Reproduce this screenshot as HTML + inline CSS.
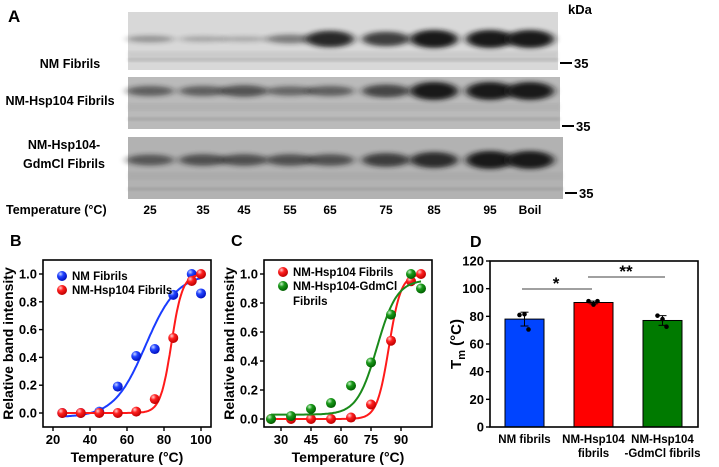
<!DOCTYPE html>
<html><head><meta charset="utf-8"><style>
body{margin:0;background:#fff;}
svg{display:block;font-family:"Liberation Sans",Arial,sans-serif;}
</style></head><body>
<svg id="fig" width="719" height="467" viewBox="0 0 719 467">
<defs>
<filter id="blur" x="-50%" y="-200%" width="200%" height="500%"><feGaussianBlur stdDeviation="4 2.5"/></filter>
<filter id="blur2"><feGaussianBlur stdDeviation="1.2"/></filter>
<radialGradient id="gb" cx="0.35" cy="0.3" r="0.7"><stop offset="0" stop-color="#c8d4ff"/><stop offset="0.4" stop-color="#2244ff"/><stop offset="1" stop-color="#0010c0"/></radialGradient>
<radialGradient id="gr" cx="0.35" cy="0.3" r="0.7"><stop offset="0" stop-color="#ffd0d0"/><stop offset="0.4" stop-color="#ff2020"/><stop offset="1" stop-color="#c00000"/></radialGradient>
<radialGradient id="gg" cx="0.35" cy="0.3" r="0.7"><stop offset="0" stop-color="#c8f0c8"/><stop offset="0.4" stop-color="#1a9a1a"/><stop offset="1" stop-color="#006000"/></radialGradient>
</defs>
<g id="panelA"></g>
<g id="panelB"></g>
<g id="panelC"></g>
<g id="panelD"></g>
</svg>
<script>
// ---- data ----
const laneLabels=["25","35","45","55","65","75","85","95","Boil"];
const gelNames=["NM Fibrils","NM-Hsp104 Fibrils","NM-Hsp104-GdmCl Fibrils"];
const gel1Intensity=[0.2,0.1,0.08,0.35,0.9,0.75,1,1,1];
const gel2Intensity=[0.45,0.45,0.55,0.4,0.45,0.65,1,1,1];
const gel3Intensity=[0.5,0.55,0.55,0.55,0.55,0.7,0.85,1,1];
const tempsB=[25,35,45,55,65,75,85,95,100];
const nmValues=[0,0,0.01,0.19,0.41,0.46,0.85,1.0,0.86];
const hspValues=[0,0,0,0,0.01,0.1,0.54,0.95,1.0];
const gdmValues=[0,0.02,0.07,0.11,0.23,0.39,0.72,1.0,0.9];
const nmFit=[-0.03,1.0,70,8.5];
const hspFit=[0,1.0,84,3];
const gdmFit=[0.03,0.96,78,5];
const bTicksX=[20,40,60,80,100];
const cTicksX=[30,45,60,75,90];
const yTicks=[0,0.2,0.4,0.6,0.8,1.0];
const dCats=["NM fibrils","NM-Hsp104|fibrils","NM-Hsp104|-GdmCl fibrils"];
const dValues=[78,90,77];
const dErr=[5,1,3.5];
const dPoints=[[81,81.5,70.5],[91,88.5,91],[80.5,78,72.5]];
const dTicks=[0,20,40,60,80,100,120];

const NS="http://www.w3.org/2000/svg";
function el(parent,tag,attrs,text){const e=document.createElementNS(NS,tag);for(const k in attrs)e.setAttribute(k,attrs[k]);if(text!==undefined)e.textContent=text;parent.appendChild(e);return e;}

// ---- Panel A ----
const A=document.getElementById('panelA');
let t=el(A,'text',{x:8,y:22,'font-size':17,'font-weight':'bold'},'A');


t=el(A,'text',{x:568,y:14,'font-size':13,'font-weight':'bold'},'kDa');


const laneX=[150,203,244,290,330,386,434,490,530];
const gels=[{y:12,h:58,band:39,bg:'#d8d8d8',vals:gel1Intensity,mk:63,rw:430},{y:77,h:52,band:91,bg:'#bababa',vals:gel2Intensity,mk:126,rw:432},{y:137,h:62,band:160,bg:'#b2b2b2',vals:gel3Intensity,mk:193,rw:435}];
gels.forEach((g,gi)=>{
  const gg=el(A,'g',{});
  
  
  el(gg,'rect',{x:128,y:g.y,width:g.rw,height:g.h,fill:g.bg});
  el(gg,'rect',{x:128,y:g.y+g.h-12,width:g.rw,height:4,fill:'#888',opacity:0.3,filter:'url(#blur2)'});
  el(gg,'rect',{x:128,y:g.band+12,width:g.rw,height:8,fill:'#888',opacity:0.15,filter:'url(#blur2)'});
  g.vals.forEach((v,i)=>{
    const b=el(gg,'ellipse',{cx:laneX[i],cy:g.band,rx:24,ry:2+v*7,fill:'#141414',opacity:0.2+v*0.78,filter:'url(#blur)'});
    
    
  });
  el(gg,'line',{x1:g.rw+130,x2:g.rw+142,y1:g.mk,y2:g.mk,stroke:'#000','stroke-width':2});
  const m=el(gg,'text',{x:g.rw+144,y:g.mk+5,'font-size':13,'font-weight':'bold'},'35');
  
  
});
const gl=[[[70,68,'NM Fibrils']],[[60,105,'NM-Hsp104 Fibrils']],[[64,149,'NM-Hsp104-'],[64,168,'GdmCl Fibrils']]];
gl.forEach((lines,gi)=>lines.forEach(l=>{const e=el(A,'text',{x:l[0],y:l[1],'font-size':12.5,'font-weight':'bold','text-anchor':'middle'},l[2]);

}));
t=el(A,'text',{x:6,y:214,'font-size':12.5,'font-weight':'bold'},'Temperature (°C)');


laneLabels.forEach((l,i)=>{const e=el(A,'text',{x:laneX[i],y:214,'font-size':12,'font-weight':'bold','text-anchor':'middle'},l);

});

// ---- line charts ----
function sig(p,x){return p[0]+(p[1]-p[0])/(1+Math.exp(-(x-p[2])/p[3]));}
function lineChart(G,letter,box,xs,ys,xTicks,series,legend){
  const lab=el(G,'text',{x:box.x0-33,y:box.y0-14,'font-size':16,'font-weight':'bold'},letter);
  
  
  const fr=el(G,'rect',{x:box.x0,y:box.y0,width:box.x1-box.x0,height:box.y1-box.y0,fill:'none',stroke:'#000','stroke-width':1.6});
  
  
  xTicks.forEach(v=>{el(G,'line',{x1:xs(v),x2:xs(v),y1:box.y1,y2:box.y1+4,stroke:'#000','stroke-width':1.4});
    const e=el(G,'text',{x:xs(v),y:box.y1+17,'font-size':13,'font-weight':'bold','text-anchor':'middle'},v);
    
    });
  yTicks.forEach(v=>{el(G,'line',{x1:box.x0-4,x2:box.x0,y1:ys(v),y2:ys(v),stroke:'#000','stroke-width':1.4});
    const e=el(G,'text',{x:box.x0-6,y:ys(v)+4.5,'font-size':13,'font-weight':'bold','text-anchor':'end'},v.toFixed(1));
    
    });
  let e=el(G,'text',{x:(box.x0+box.x1)/2,y:box.y1+35,'font-size':14,'font-weight':'bold','text-anchor':'middle'},'Temperature (°C)');
  
  
  const cy=(box.y0+box.y1)/2;
  e=el(G,'text',{x:box.x0-30,y:cy,'font-size':14,'font-weight':'bold','text-anchor':'middle',transform:`rotate(-90 ${box.x0-30} ${cy})`},'Relative band intensity');
  
  
  series.forEach(s=>{
    let d='';for(let x=25;x<=100;x+=0.5){d+=(d?'L':'M')+xs(x).toFixed(1)+','+ys(sig(s.fit,x)).toFixed(1);}
    const p=el(G,'path',{d:d,fill:'none',stroke:s.color,'stroke-width':2});
    
    
    s.vals.forEach((v,i)=>{const c=el(G,'circle',{cx:xs(tempsB[i]),cy:ys(v),r:5,fill:s.grad});
      
      });
  });
  legend.forEach((l,i)=>{
    const c=el(G,'circle',{cx:box.x0+l.dx,cy:box.y0+l.dy,r:5,fill:l.grad});
    
    
    l.text.forEach((tx,j)=>{const e=el(G,'text',{x:box.x0+l.dx+10,y:box.y0+l.dy+4+j*15,'font-size':11.5,'font-weight':'bold'},tx);
      
      });
  });
}
const boxB={x0:43,x1:211,y0:260,y1:427};
lineChart(document.getElementById('panelB'),'B',boxB,v=>53+(v-20)*1.85,v=>413-v*139,bTicksX,
 [{fit:nmFit,vals:nmValues,color:'#1a3cff',grad:'url(#gb)',name:'nm'},{fit:hspFit,vals:hspValues,color:'#ff1a1a',grad:'url(#gr)',name:'hsp104'}],
 [{dx:19,dy:16,grad:'url(#gb)',text:['NM Fibrils']},{dx:19,dy:30,grad:'url(#gr)',text:['NM-Hsp104 Fibrils']}]);
const boxC={x0:264,x1:432,y0:260,y1:427};
lineChart(document.getElementById('panelC'),'C',boxC,v=>271+(v-25)*2,v=>419-v*145,cTicksX,
 [{fit:hspFit,vals:hspValues,color:'#ff1a1a',grad:'url(#gr)',name:'hsp104'},{fit:gdmFit,vals:gdmValues,color:'#1a8a1a',grad:'url(#gg)',name:'gdmcl'}],
 [{dx:19,dy:12,grad:'url(#gr)',text:['NM-Hsp104 Fibrils']},{dx:19,dy:26,grad:'url(#gg)',text:['NM-Hsp104-GdmCl','Fibrils']}]);

// ---- Panel D ----
const D=document.getElementById('panelD');
const bx={x0:490,x1:698,y0:261,y1:427};
const ysD=v=>427-v*(166/120);
const barX=i=>505+i*69;
t=el(D,'text',{x:470,y:247,'font-size':16,'font-weight':'bold'},'D');


const colors=['#0044ff','#ff0000','#007a00'];
dValues.forEach((v,i)=>{
  const r=el(D,'rect',{x:barX(i),y:ysD(v),width:39,height:427-ysD(v),fill:colors[i],stroke:'#000','stroke-width':1});
  
  
  const cx=barX(i)+19.5;
  el(D,'line',{x1:cx,x2:cx,y1:ysD(v-dErr[i]),y2:ysD(v+dErr[i]),stroke:'#000','stroke-width':1});
  el(D,'line',{x1:cx-4,x2:cx+4,y1:ysD(v+dErr[i]),y2:ysD(v+dErr[i]),stroke:'#000','stroke-width':1});
  el(D,'line',{x1:cx-4,x2:cx+4,y1:ysD(v-dErr[i]),y2:ysD(v-dErr[i]),stroke:'#000','stroke-width':1});
  dPoints[i].forEach((p,j)=>{const c=el(D,'circle',{cx:cx+[-5,0,4][j],cy:ysD(p),r:2.3,fill:'#000'});
    
    });
  dCats[i].split('|').forEach((s,j)=>{const e=el(D,'text',{x:cx,y:443+j*14,'font-size':11.5,'font-weight':'bold','text-anchor':'middle'},s);
    
    });
});
t=el(D,'rect',{x:bx.x0,y:bx.y0,width:bx.x1-bx.x0,height:bx.y1-bx.y0,fill:'none',stroke:'#000','stroke-width':1.6});


dTicks.forEach(v=>{el(D,'line',{x1:bx.x0-4,x2:bx.x0,y1:ysD(v),y2:ysD(v),stroke:'#000','stroke-width':1.4});
  const e=el(D,'text',{x:bx.x0-6,y:ysD(v)+4.5,'font-size':13,'font-weight':'bold','text-anchor':'end'},v);
  
  });
t=el(D,'text',{x:0,y:0,'font-size':15,'font-weight':'bold','text-anchor':'middle',transform:'translate(461 344) rotate(-90)'});


el(t,'tspan',{},'T');
el(t,'tspan',{'font-size':11,dy:4},'m');
el(t,'tspan',{dy:-4},' (°C)');
el(D,'line',{x1:522,x2:592,y1:289,y2:289,stroke:'#000','stroke-width':0.8});
el(D,'line',{x1:588,x2:665,y1:277,y2:277,stroke:'#000','stroke-width':0.8});
t=el(D,'text',{x:556,y:289,'font-size':17,'font-weight':'bold','text-anchor':'middle'},'*');


t=el(D,'text',{x:626,y:277,'font-size':17,'font-weight':'bold','text-anchor':'middle'},'**');


</script>
</body></html>
